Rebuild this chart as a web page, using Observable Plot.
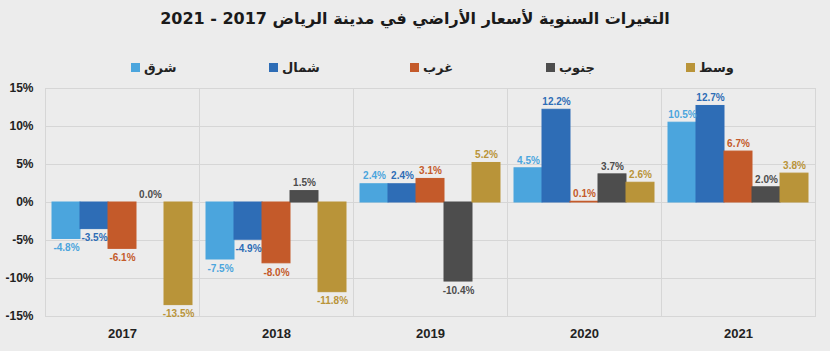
<!DOCTYPE html>
<html lang="ar">
<head>
<meta charset="utf-8">
<script src="https://cdn.jsdelivr.net/npm/d3@7"></script>
<script src="https://cdn.jsdelivr.net/npm/@observablehq/plot@0.6"></script>
<style>
  html, body { margin: 0; padding: 0; background: #ececec; }
  #wrap { position: relative; width: 830px; height: 351px; overflow: hidden; background: #ececec; }
  #title { position: absolute; left: 0; top: 9px; width: 830px; text-align: center;
    font-family: "DejaVu Sans", sans-serif; font-weight: bold; font-size: 16px; color: #1a1a1a; }
  .leg { position: absolute; top: 59px; height: 16px; display: flex; align-items: center;
    font-family: "DejaVu Sans", sans-serif; font-weight: bold; font-size: 13px; color: #222; }
  .leg span.sw { display: inline-block; width: 9px; height: 9px; margin-right: 4px; }
  #chart { position: absolute; left: 0; top: 78px; }
</style>
</head>
<body>
<div id="wrap">
  <div id="title" dir="rtl">التغيرات السنوية لأسعار الأراضي في مدينة الرياض 2017 - 2021</div>
  <div id="legend"></div>
  <div id="chart"></div>
</div>
<script>
const years = ["2017", "2018", "2019", "2020", "2021"];
const regions = ["شرق", "شمال", "غرب", "جنوب", "وسط"];
const colors = ["#4ba5dd", "#2e6db6", "#c45a2a", "#4d4d4d", "#b99439"];
const east  = [-4.8, -7.5, 2.4, 4.5, 10.5];
const north = [-3.5, -4.9, 2.4, 12.2, 12.7];
const west  = [-6.1, -8.0, 3.1, 0.1, 6.7];
const south = [0.0, 1.5, -10.4, 3.7, 2.0];
const center = [-13.5, -11.8, 5.2, 2.6, 3.8];
const yTicks = [-15, -10, -5, 0, 5, 10, 15];

const series = [east, north, west, south, center];
const data = [];
years.forEach((yr, i) => {
  regions.forEach((r, j) => data.push({year: yr, region: r, value: series[j][i]}));
});

// legend
const legendX = [131, 269, 410, 546, 686];
const legend = document.getElementById("legend");
regions.forEach((r, j) => {
  const d = document.createElement("div");
  d.className = "leg";
  d.style.left = legendX[j] + "px";
  d.innerHTML = `<span class="sw" style="background:${colors[j]}"></span><span dir="rtl">${r}</span>`;
  legend.appendChild(d);
});

const fmt = v => v.toFixed(1) + "%";

const chart = Plot.plot({
  width: 830,
  height: 273,
  marginLeft: 45,
  marginRight: 15,
  marginTop: 10,
  marginBottom: 35,
  style: {background: "transparent", fontFamily: "Liberation Sans, Arial, sans-serif", fontWeight: "bold", color: "#222"},
  fx: {domain: years, padding: 0, label: null, tickSize: 0, tickPadding: 12, axis: "bottom"},
  x: {domain: regions, axis: null, paddingInner: 0, paddingOuter: 0.25},
  y: {domain: [-15, 15], ticks: yTicks, tickFormat: d => d + "%", tickSize: 0, tickPadding: 12, label: null},
  color: {domain: regions, range: colors},
  marks: [
    Plot.ruleY(yTicks, {stroke: "#d6d6d6", strokeWidth: 1}),
    Plot.frame({stroke: "#d6d6d6"}),
    Plot.barY(data, {fx: "year", x: "region", y: "value", fill: "region", stroke: "region", strokeWidth: 1}),
    Plot.text(data.filter(d => d.value >= 0), {fx: "year", x: "region", y: "value", text: d => fmt(d.value), fill: "region", dy: -8, fontSize: 10}),
    Plot.text(data.filter(d => d.value < 0), {fx: "year", x: "region", y: "value", text: d => fmt(d.value), fill: "region", dy: 9, fontSize: 10})
  ]
});
chart.querySelectorAll("g[aria-label='fx-axis tick label']").forEach(g => { g.style.fontSize = "13px"; });
chart.querySelectorAll("g[aria-label='y-axis tick label']").forEach(g => { g.style.fontSize = "12px"; });
document.getElementById("chart").appendChild(chart);
</script>
</body>
</html>
